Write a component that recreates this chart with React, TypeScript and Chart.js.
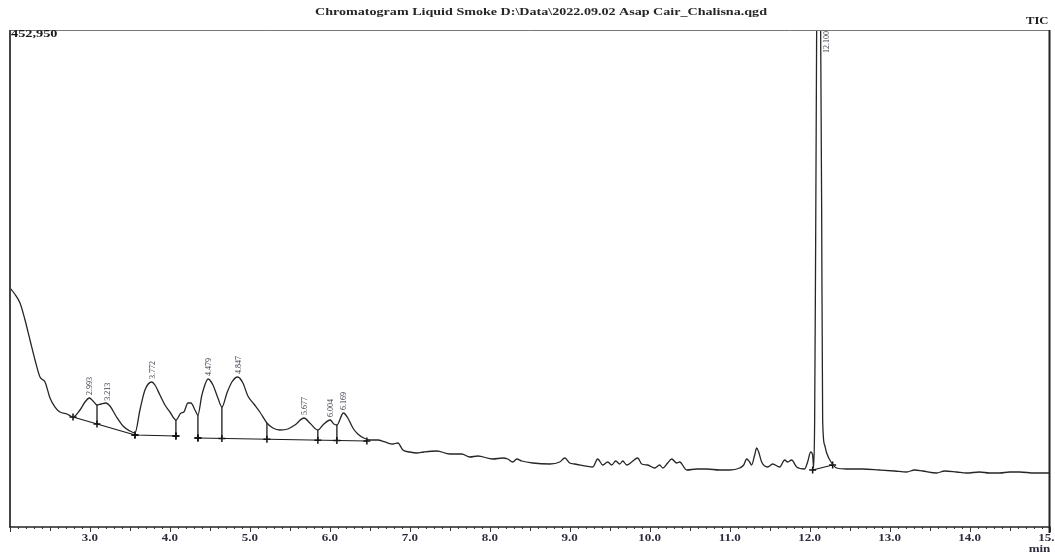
import React, { useEffect, useRef } from "react";
import { Chart, registerables } from "chart.js";

Chart.register(...registerables);

const chartTitle = "Chromatogram Liquid Smoke D:\\Data\\2022.09.02 Asap Cair_Chalisna.qgd";
const maxIntensityLabel = "452,950";
const traceLabel = "TIC";
const axisUnit = "min";

const xMin = 2.0;
const xMax = 15.0;
const yMin = 0;
const yMax = 452950;

const tickLabels = ["3.0", "4.0", "5.0", "6.0", "7.0", "8.0", "9.0", "10.0", "11.0", "12.0", "13.0", "14.0", "15.0"];
const tickValues = [3, 4, 5, 6, 7, 8, 9, 10, 11, 12, 13, 14, 15];

const retentionTimes = [
  2.0, 2.05, 2.125, 2.188, 2.25, 2.313, 2.375, 2.438, 2.5, 2.563, 2.625, 2.713, 2.788, 2.875, 2.938, 2.993,
  3.038, 3.088, 3.138, 3.2, 3.25, 3.325, 3.413, 3.5, 3.563, 3.625, 3.688, 3.772, 3.813, 3.875, 3.938, 4.0,
  4.075, 4.138, 4.175, 4.225, 4.263, 4.313, 4.35, 4.4, 4.479, 4.538, 4.6, 4.65, 4.713, 4.775, 4.847, 4.913,
  4.975, 5.05, 5.125, 5.213, 5.288, 5.375, 5.475, 5.563, 5.677, 5.75, 5.85, 5.925, 6.004, 6.05, 6.088, 6.169,
  6.225, 6.288, 6.35, 6.425, 6.5, 6.6, 6.688, 6.788, 6.85, 6.913, 7.0, 7.088, 7.175, 7.338, 7.5, 7.65,
  7.75, 7.85, 8.038, 8.163, 8.225, 8.288, 8.338, 8.4, 8.538, 8.75, 8.875, 8.938, 9.0, 9.063, 9.288, 9.35,
  9.413, 9.475, 9.525, 9.575, 9.625, 9.663, 9.713, 9.775, 9.85, 9.9, 9.975, 10.063, 10.125, 10.163, 10.225, 10.275,
  10.338, 10.375, 10.463, 10.588, 10.713, 10.875, 11.0, 11.125, 11.175, 11.213, 11.25, 11.275, 11.313, 11.338, 11.363, 11.4,
  11.475, 11.538, 11.625, 11.688, 11.725, 11.775, 11.838, 11.938, 11.975, 12.013, 12.038, 12.05, 12.063, 12.075, 12.088, 12.1,
  12.125, 12.138, 12.15, 12.163, 12.188, 12.213, 12.275, 12.338, 12.463, 12.663, 12.875, 13.063, 13.213, 13.313, 13.413, 13.588,
  13.688, 13.838, 13.963, 14.125, 14.25, 14.375, 14.5, 14.625, 14.813, 15.0,
];

const intensities = [
  217800, 213260, 204150, 188650, 170430, 152200, 136700, 132150, 117570, 109360, 104810, 102980, 100250, 106630, 113920, 117570,
  114830, 111190, 112100, 113010, 110280, 101160, 92050, 87490, 85670, 106630, 124860, 132150, 129410, 120300, 111190, 104810,
  97520, 103900, 104810, 113010, 113010, 106630, 102070, 120300, 134880, 129410, 117570, 109360, 122120, 132150, 136700, 131240,
  119390, 112100, 104810, 94780, 90230, 88400, 89310, 92960, 99340, 94780, 88400, 93870, 97520, 93870, 92960, 103900,
  99340, 90230, 84760, 81110, 79290, 79290, 77470, 75640, 76560, 70180, 68350, 67440, 68350, 69260, 66530, 66530,
  63800, 64710, 61970, 62880, 61970, 59240, 61970, 60150, 58330, 57420, 59240, 62880, 58330, 57420, 54680, 61970,
  56500, 59240, 56500, 60150, 57420, 60150, 56500, 59240, 62880, 57420, 56500, 53770, 56500, 53770, 58330, 61970,
  58330, 59240, 51950, 52860, 52860, 51950, 51950, 53770, 56500, 61970, 59240, 56500, 65620, 72000, 68350, 59240,
  54680, 57420, 54680, 61060, 59240, 61060, 54680, 52860, 59240, 68350, 65620, 53770, 97520, 252400, 452950, 620000,
  560000, 452950, 298000, 97520, 74730, 67440, 58330, 53770, 52860, 52860, 51950, 51040, 50130, 51950, 51040, 49210,
  51040, 50130, 49210, 50130, 49210, 49210, 50130, 50130, 49210, 49210,
];

const peakTimes = [2.993, 3.213, 3.772, 4.479, 4.847, 5.677, 6.004, 6.169, 12.1];
const peakLabels = ["2.993", "3.213", "3.772", "4.479", "4.847", "5.677", "6.004", "6.169", "12.100"];

// integration baselines: start time, start intensity, end time, end intensity
const baselineStartTimes = [2.788, 3.563, 4.35, 12.038];
const baselineStartValues = [100250, 83850, 81110, 51950];
const baselineEndTimes = [3.563, 4.075, 6.463, 12.288];
const baselineEndValues = [83850, 82930, 78380, 56500];

const dropLineTimes = [3.088, 4.075, 4.35, 4.65, 5.213, 5.85, 6.088];

function curveAt(t: number): number {
  for (let i = 0; i < retentionTimes.length - 1; i++) {
    const a = retentionTimes[i];
    const b = retentionTimes[i + 1];
    if (t >= a && t <= b) {
      const f = (t - a) / (b - a);
      return intensities[i] + f * (intensities[i + 1] - intensities[i]);
    }
  }
  return intensities[intensities.length - 1];
}

function baselineAt(t: number): number {
  for (let i = 0; i < baselineStartTimes.length; i++) {
    const a = baselineStartTimes[i];
    const b = baselineEndTimes[i];
    if (t >= a - 1e-6 && t <= b + 1e-6) {
      const f = (t - a) / (b - a);
      return baselineStartValues[i] + f * (baselineEndValues[i] - baselineStartValues[i]);
    }
  }
  return 0;
}

const SERIF = '"Liberation Serif", "Times New Roman", serif';

function wideText(ctx: CanvasRenderingContext2D, txt: string, x: number, y: number, align: CanvasTextAlign, sx: number) {
  ctx.save();
  ctx.translate(x, y);
  ctx.scale(sx, 1);
  ctx.textAlign = align;
  ctx.fillText(txt, 0, 0);
  ctx.restore();
}

const framePlugin = {
  id: "chromFrame",
  afterDraw(chart: any) {
    const { ctx, chartArea } = chart;
    const xs = chart.scales.x;
    const ys = chart.scales.y;
    const { left, right, top, bottom } = chartArea;
    ctx.save();

    // frame
    ctx.strokeStyle = "#777";
    ctx.lineWidth = 1;
    ctx.beginPath();
    ctx.moveTo(left, top + 0.5);
    ctx.lineTo(right, top + 0.5);
    ctx.stroke();
    ctx.strokeStyle = "#444";
    ctx.lineWidth = 2;
    ctx.beginPath();
    ctx.moveTo(left, top);
    ctx.lineTo(left, bottom);
    ctx.stroke();
    ctx.strokeStyle = "#222";
    ctx.beginPath();
    ctx.moveTo(right, top);
    ctx.lineTo(right, bottom + 6);
    ctx.stroke();
    ctx.lineWidth = 1.5;
    ctx.beginPath();
    ctx.moveTo(left - 1, bottom);
    ctx.lineTo(right + 1, bottom);
    ctx.stroke();

    // ticks
    ctx.lineWidth = 1;
    ctx.strokeStyle = "#333";
    for (let i = Math.round(xMin * 10); i <= Math.round(xMax * 10); i++) {
      const v = i / 10;
      const px = Math.round(xs.getPixelForValue(v)) + 0.5;
      const len = i % 10 === 0 ? 5 : i % 5 === 0 ? 4 : 2;
      ctx.beginPath();
      ctx.moveTo(px, bottom);
      ctx.lineTo(px, bottom + len);
      ctx.stroke();
    }

    // tick labels
    ctx.fillStyle = "#2c2c3c";
    ctx.font = `bold 10px ${SERIF}`;
    ctx.textBaseline = "middle";
    tickValues.forEach((v, i) => {
      wideText(ctx, tickLabels[i], xs.getPixelForValue(v), bottom + 11, "center", 1.3);
    });
    wideText(ctx, axisUnit, right - 10, bottom + 22, "center", 1.3);

    // title texts
    ctx.fillStyle = "#262626";
    ctx.font = `bold 11px ${SERIF}`;
    wideText(ctx, chartTitle, 541, 12, "center", 1.28);
    ctx.fillStyle = "#1a1a1a";
    wideText(ctx, traceLabel, right - 1, 21, "right", 1.15);
    wideText(ctx, maxIntensityLabel, left + 1, top + 4, "left", 1.3);

    // peak labels (rotated)
    ctx.font = `8px ${SERIF}`;
    ctx.fillStyle = "#3a3a4a";
    peakTimes.forEach((t, i) => {
      const apex = curveAt(t);
      let px = xs.getPixelForValue(t) + 1;
      let py = ys.getPixelForValue(apex) - 3;
      const txt = peakLabels[i];
      const w = ctx.measureText(txt).width;
      if (py - w < top + 1) {
        py = top + 1 + w;
        px += 8;
      }
      ctx.save();
      ctx.translate(px, py);
      ctx.rotate(-Math.PI / 2);
      ctx.textAlign = "left";
      ctx.textBaseline = "middle";
      ctx.fillText(txt, 0, 0);
      ctx.restore();
    });

    ctx.restore();
  },
};

export default function App() {
  const ref = useRef<HTMLCanvasElement | null>(null);

  useEffect(() => {
    if (!ref.current) return;

    const trace = retentionTimes.map((t, i) => ({ x: t, y: intensities[i] }));

    const baselineData: any[] = [];
    baselineStartTimes.forEach((t, i) => {
      baselineData.push({ x: t, y: baselineStartValues[i] });
      baselineData.push({ x: baselineEndTimes[i], y: baselineEndValues[i] });
      baselineData.push({ x: baselineEndTimes[i], y: null });
    });

    const dropData: any[] = [];
    dropLineTimes.forEach((t) => {
      dropData.push({ x: t, y: curveAt(t), top: true });
      dropData.push({ x: t, y: baselineAt(t), top: false });
      dropData.push({ x: t, y: null });
    });

    const chart = new Chart(ref.current, {
      type: "line",
      data: {
        datasets: [
          {
            label: "TIC",
            data: trace,
            borderColor: "#262626",
            borderWidth: 1.3,
            pointRadius: 0,
            cubicInterpolationMode: "monotone",
            fill: false,
          },
          {
            label: "baseline",
            data: baselineData,
            borderColor: "#1a1a1a",
            borderWidth: 1.2,
            pointStyle: "cross",
            pointRadius: 3.5,
            pointBorderWidth: 1.5,
            pointBorderColor: "#111",
            spanGaps: false,
            tension: 0,
          },
          {
            label: "drop",
            data: dropData,
            borderColor: "#1a1a1a",
            borderWidth: 1.3,
            pointStyle: "cross",
            pointRadius: (c: any) => (c.raw && c.raw.top === false ? 3.5 : 0),
            pointBorderWidth: 1.5,
            pointBorderColor: "#111",
            spanGaps: false,
            tension: 0,
          },
        ],
      } as any,
      options: {
        animation: false,
        responsive: false,
        parsing: true,
        layout: { padding: { left: 10, right: 5, top: 30, bottom: 28 } },
        plugins: {
          legend: { display: false },
          tooltip: { enabled: false },
          title: { display: false },
        },
        events: [],
        scales: {
          x: { type: "linear", min: xMin, max: xMax, display: false },
          y: { type: "linear", min: yMin, max: yMax, display: false },
        },
      } as any,
      plugins: [framePlugin],
    });

    return () => chart.destroy();
  }, []);

  return (
    <div style={{ position: "fixed", left: 0, top: 0, width: 1055, height: 555, background: "#fff" }}>
      <canvas ref={ref} width={1055} height={555} style={{ display: "block" }} />
    </div>
  );
}
